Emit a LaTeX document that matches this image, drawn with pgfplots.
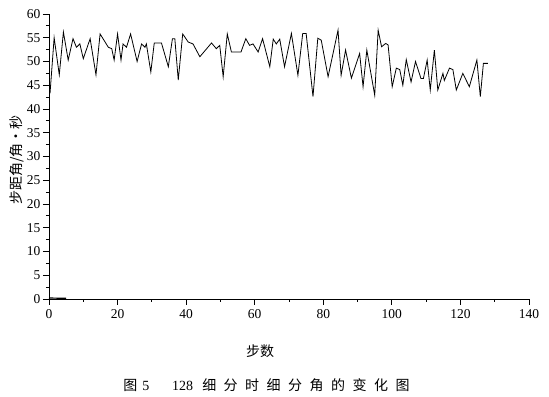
\documentclass[border=0pt]{standalone}
\usepackage{fontspec}
\setmainfont{Liberation Serif}
\newfontfamily\cjk{Noto Sans CJK SC}
\usepackage{pgfplots}
\pgfplotsset{compat=1.18}
\begin{document}
\begin{tikzpicture}
\begin{axis}[
  scale only axis,
  width=480pt, height=285pt,
  xmin=0, xmax=140, ymin=0, ymax=60,
  axis x line=bottom, axis y line=left,
  axis line style={-, line width=0.8pt},
  xtick distance=20, ytick distance=5,
  minor x tick num=1, minor y tick num=1,
  tick align=outside,
  major tick length=6pt, minor tick length=3pt,
  tick style={line width=0.8pt, black},
  /pgf/number format/assume math mode=true,
  tick label style={font=\fontsize{13.5}{15}\selectfont},
  xticklabel style={yshift=-1pt},
  yticklabel style={xshift=1pt},
  xlabel={\cjk 步数},
  ylabel={\cjk 步距角/角·秒},
  xlabel style={at={(axis description cs:0.44,-0.182)}, anchor=center, font=\fontsize{14}{16}\selectfont},
  ylabel style={at={(axis description cs:-0.067,0.488)}, anchor=center, font=\fontsize{14}{16}\selectfont},
  clip=false,
]
\addplot[black, line width=0.8pt] coordinates {
(0.3,43.3)(1.5,55)(3,47.2)(4.2,56.2)(5.6,50.3)(7,54.8)(8,53)(9,53.7)(10,50.6)(12,54.8)
(13.7,47.2)(14.9,55.8)(17.3,53)(18.3,52.7)(19,50.3)(20,55.8)(21,50.3)(21.6,53.7)(22.6,53)(23.8,55.8)
(25.7,50)(27,53.7)(28,53)(28.4,53.7)(29.7,47.8)(30.7,53.9)(32.8,53.9)(34.8,48.9)(36,54.8)(36.7,54.8)
(37.7,46.1)(39,55.8)(40.6,54.1)(42,53.7)(44,51)(47.4,53.9)(48.8,52.7)(49.8,53.4)(50.8,46.8)(52,55.8)
(53.2,52)(56,52)(57.4,54.8)(58.5,53.4)(59.5,53.7)(61,52)(62.3,54.8)(64.4,48.9)(65.4,54.7)(66.3,53.7)
(67.3,54.7)(68.7,48.9)(70.7,55.9)(72.6,47.1)(74,55.9)(75,55.9)(77,42.6)(78.4,54.9)(79.4,54.5)(81.4,46.8)
(84.3,56.6)(85.2,47.1)(86.5,52.4)(88.2,46.5)(90.6,51.7)(91.6,44.7)(92.7,52.4)(95,42.9)(96,56.6)(97,53.1)
(98.2,53.8)(98.9,53.5)(100.1,44.7)(101.3,48.6)(102.3,48.3)(103.2,45)(104.2,50.4)(105.6,45.7)(106.9,50)(108.5,46.4)
(109.2,46.4)(110.3,50.3)(111.2,44)(112.4,52.4)(113.4,44)(114.9,47.5)(115.3,46)(116.8,48.6)(117.8,48.3)(118.8,44)
(120.7,47.5)(122.6,44.7)(124.8,50.3)(125.8,42.6)(126.7,49.6)(128,49.6)
};
\addplot[black, line width=1.2pt] coordinates {(0,0.2)(5,0.15)};
\end{axis}
\node[font=\fontsize{14}{16}\selectfont, anchor=center] at ([xshift=217.5pt,yshift=-86pt]current axis.south west)
  {{\cjk 图}\hspace{5pt}5\hspace{23pt}128\hspace{9pt}{\cjk 细\hspace{7.5pt}分\hspace{7.5pt}时\hspace{7.5pt}细\hspace{7.5pt}分\hspace{7.5pt}角\hspace{7.5pt}的\hspace{7.5pt}变\hspace{7.5pt}化\hspace{7.5pt}图}};
\path ([xshift=-49pt,yshift=-98pt]current axis.south west) rectangle ([xshift=20pt,yshift=14pt]current axis.north east);
\end{tikzpicture}
\end{document}
